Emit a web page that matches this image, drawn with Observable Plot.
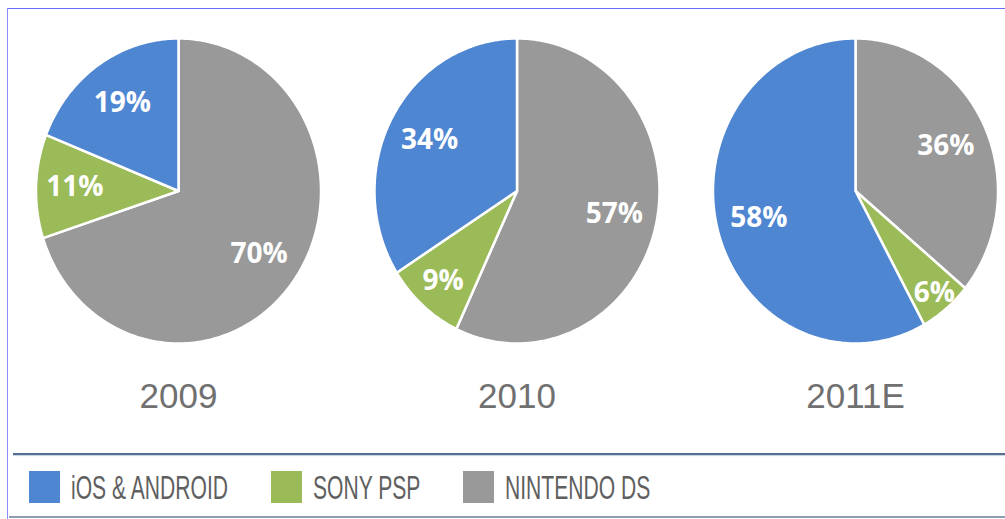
<!DOCTYPE html>
<html><head><meta charset="utf-8">
<script src="https://cdn.jsdelivr.net/npm/d3@7"></script>
<script src="https://cdn.jsdelivr.net/npm/@observablehq/plot@0.6"></script>
<style>
html,body{margin:0;padding:0;background:#fff;overflow:hidden}
#wrap{position:relative;width:1005px;height:519px;background:#fff}
#chart{position:absolute;left:0;top:0}
#frame{position:absolute;left:7px;top:8px;right:-2px;bottom:-2px;border-top:1px solid #6a6aff;border-left:1px solid #8c8cff;pointer-events:none}
#sep{position:absolute;left:13px;right:0;top:453px;height:2px;background:#54708f;box-shadow:0 1px 1px #c6d1de}
#bot{position:absolute;left:9px;right:0;top:516px;height:2px;background:#8e9db3}
#legend{position:absolute;left:29px;top:471px;height:32px;display:flex;align-items:center;font-family:"Liberation Sans",Arial,sans-serif;font-size:34px;color:#5f5f5f}
.item{display:flex;align-items:center;margin-right:43px}
.sw{width:31px;height:32px;margin-right:11px;flex:none}
.lbw{display:inline-block;white-space:nowrap;height:34px;line-height:34px}
.lb{display:inline-block;transform:scaleX(0.62);transform-origin:0 50%}
</style></head>
<body>
<div id="wrap">
  <div id="chart"></div>
  <div id="sep"></div>
  <div id="legend"></div>
  <div id="bot"></div>
  <div id="frame"></div>
</div>
<script>
const years = ["2009", "2010", "2011E"];
const platforms = ["iOS & ANDROID", "SONY PSP", "NINTENDO DS"];
const colors = ["#4f86d1", "#9bbb59", "#999999"];
const iosAndroid = [19, 34, 58];
const sonyPsp = [11, 9, 6];
const nintendoDs = [70, 57, 36];
// slices run clockwise from 12 o'clock in this order
const pieOrder = ["NINTENDO DS", "SONY PSP", "iOS & ANDROID"];

const shares = {"iOS & ANDROID": iosAndroid, "SONY PSP": sonyPsp, "NINTENDO DS": nintendoDs};

const RX = 0.421; // horizontal radius, in units of pie spacing
const wedges = [], labels = [];
years.forEach((year, i) => {
  const rows = pieOrder.map(p => ({platform: p, value: shares[p][i]}));
  const arcs = d3.pie().sort(null).value(d => d.value)(rows);
  arcs.forEach(a => {
    const key = year + "|" + a.data.platform;
    const n = Math.max(2, Math.ceil((a.endAngle - a.startAngle) / (Math.PI / 180)));
    wedges.push({key, platform: a.data.platform, x: i, y: 0});
    for (let k = 0; k <= n; k++) {
      const t = a.startAngle + (a.endAngle - a.startAngle) * k / n;
      wedges.push({key, platform: a.data.platform, x: i + RX * Math.sin(t), y: Math.cos(t)});
    }
    wedges.push({key, platform: a.data.platform, x: i, y: 0});
    const mid = (a.startAngle + a.endAngle) / 2;
    const v = a.data.value / 100;
    const f = 0.7 + Math.max(0, 0.12 - v) * 2.8;
    labels.push({x: i + f * RX * Math.sin(mid), y: f * Math.cos(mid), text: a.data.value + "%"});
  });
});

const plot = Plot.plot({
  width: 1005,
  height: 445,
  marginLeft: 0,
  marginRight: 0,
  marginTop: 38,
  marginBottom: 102,
  x: {domain: [-178 / 338.5, (1005 - 178) / 338.5]},
  y: {domain: [-1, 1], axis: null},
  color: {domain: platforms, range: colors},
  style: {fontFamily: "'Liberation Sans', Arial, sans-serif", color: "#707070", background: "transparent"},
  marks: [
    Plot.line(wedges, {x: "x", y: "y", z: "key", fill: "platform", stroke: "white", strokeWidth: 2.5, strokeLinejoin: "round", curve: "linear"}),
    Plot.text(labels, {x: "x", y: "y", text: "text", fill: "white", fontSize: 28, fontWeight: "bold", fontFamily: "'Open Sans', sans-serif"}),
    Plot.axisX({ticks: [0, 1, 2], tickFormat: i => years[i], tickSize: 0, tickPadding: 40, fontSize: 35, label: null})
  ]
});
document.getElementById("chart").appendChild(plot);

const cs = plot.scale("color");
const legend = document.getElementById("legend");
cs.domain.forEach(d => {
  const item = document.createElement("div");
  item.className = "item";
  const sw = document.createElement("div");
  sw.className = "sw";
  sw.style.background = cs.apply(d);
  const w = document.createElement("span");
  w.className = "lbw";
  const t = document.createElement("span");
  t.className = "lb";
  t.textContent = d;
  w.appendChild(t);
  item.appendChild(sw);
  item.appendChild(w);
  legend.appendChild(item);
});
legend.querySelectorAll(".lbw").forEach(w => {
  const inner = w.firstChild;
  w.style.width = inner.getBoundingClientRect().width + "px";
});
</script>
</body></html>
